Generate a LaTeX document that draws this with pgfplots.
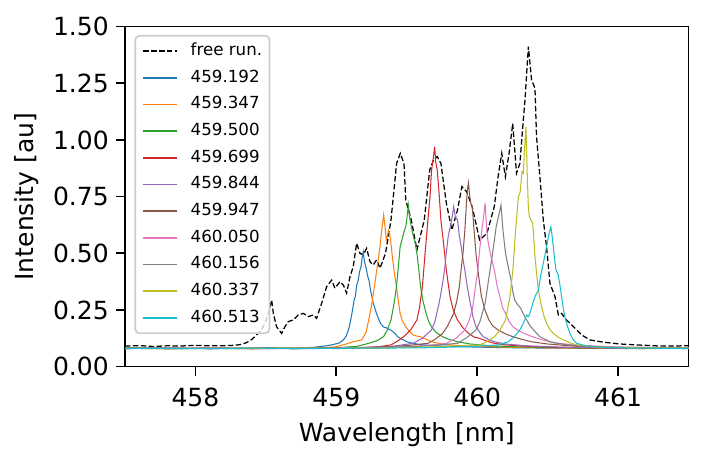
\documentclass[border=0pt]{standalone}
\usepackage{fontspec}
\setmainfont{DejaVu Sans}
\usepackage{pgfplots}
\pgfplotsset{compat=1.18}
\definecolor{tabblue}{HTML}{1F77B4}
\definecolor{taborange}{HTML}{FF7F0E}
\definecolor{tabgreen}{HTML}{2CA02C}
\definecolor{tabred}{HTML}{D62728}
\definecolor{tabpurple}{HTML}{9467BD}
\definecolor{tabbrown}{HTML}{8C564B}
\definecolor{tabpink}{HTML}{E377C2}
\definecolor{tabgray}{HTML}{7F7F7F}
\definecolor{tabolive}{HTML}{BCBD22}
\definecolor{tabcyan}{HTML}{17BECF}
\begin{document}
\begin{tikzpicture}
\begin{axis}[
  name=ax,
  scale only axis,
  width=270.5pt, height=163.2pt,
  xmin=457.5, xmax=461.5, ymin=0, ymax=1.5,
  xtick={458,459,460,461},
  ytick={0,0.25,0.5,0.75,1,1.25,1.5},
  yticklabel style={/pgf/number format/.cd, fixed, fixed zerofill, precision=2},
  xticklabel style={yshift=-2.5pt},
  /pgf/number format/assume math mode=true,
  tick align=outside, tick pos=left,
  major tick length=4.3pt,
  every tick/.style={black, line width=0.8pt},
  axis line style={line width=0.8pt},
  tick label style={font=\fontsize{12}{14}\selectfont},
  label style={font=\fontsize{12}{14}\selectfont},
  xlabel={Wavelength [nm]},
  xlabel style={yshift=-0.5pt},
  ylabel={Intensity [au]},
  legend cell align=left,
  legend image code/.code={\draw[#1, line width=0.75pt, draw opacity=1] (0pt,0pt) -- (16pt,0pt);},
  legend style={at={(0,1)}, anchor=north west, xshift=4.5pt, yshift=-4pt,
    draw=black!20, rounded corners=2pt, line width=0.8pt,
    fill=white, fill opacity=0.8, text opacity=1,
    font=\fontsize{8}{9.6}\selectfont,
    inner xsep=3.5pt, inner ysep=3.5pt, row sep=5.1pt, column sep=6.4pt,
    nodes={inner sep=0pt, text height=6pt, text depth=1.7pt}},
]
\addplot[draw=black, line width=0.6pt, dash pattern=on 2.6pt off 1.2pt] coordinates {
(457.50,0.091)(457.6,0.093)(457.7,0.089)(457.8,0.092)(457.89,0.091)(458.0,0.094)(458.1,0.092)(458.245,0.093)(458.316,0.097)(458.363,0.106)(458.40,0.12)(458.434,0.140)(458.47,0.165)(458.494,0.191)(458.524,0.250)(458.541,0.294)(458.553,0.235)(458.576,0.176)(458.612,0.147)(458.635,0.176)(458.659,0.199)(458.695,0.206)(458.730,0.228)(458.766,0.235)(458.801,0.221)(458.837,0.228)(458.860,0.213)(458.896,0.280)(458.931,0.353)(458.967,0.382)(458.990,0.346)(459.026,0.375)(459.050,0.360)(459.073,0.324)(459.097,0.397)(459.120,0.441)(459.144,0.544)(459.168,0.500)(459.191,0.493)(459.215,0.522)(459.239,0.463)(459.262,0.449)(459.286,0.471)(459.31,0.434)(459.349,0.500)(459.388,0.647)(459.428,0.897)(459.454,0.941)(459.480,0.897)(459.493,0.735)(459.532,0.647)(459.572,0.515)(459.624,0.647)(459.663,0.868)(459.690,0.912)(459.716,0.927)(459.742,0.897)(459.781,0.721)(459.820,0.603)(459.860,0.691)(459.891,0.794)(459.925,0.772)(459.964,0.706)(460.017,0.559)(460.069,0.588)(460.121,0.706)(460.148,0.838)(460.174,0.941)(460.200,0.838)(460.226,0.941)(460.252,1.073)(460.279,0.853)(460.303,0.897)(460.327,1.088)(460.339,1.176)(460.363,1.412)(460.386,1.265)(460.410,1.228)(460.421,1.015)(460.445,0.838)(460.469,0.647)(460.492,0.530)(460.516,0.368)(460.552,0.309)(460.576,0.228)(460.599,0.235)(460.634,0.206)(460.682,0.177)(460.741,0.140)(460.800,0.118)(460.895,0.108)(461.013,0.100)(461.131,0.096)(461.297,0.091)(461.5,0.092)
};
\addlegendentry{free run.}
\addplot[draw=tabblue, line width=0.5pt] coordinates {
(457.50,0.081)(457.70,0.083)(457.90,0.079)(458.10,0.082)(458.30,0.080)(458.50,0.083)(458.70,0.081)(458.85,0.086)(458.93,0.092)(458.98,0.098)(459.02,0.104)(459.05,0.118)(459.07,0.135)(459.09,0.17)(459.10,0.20)(459.115,0.25)(459.125,0.29)(459.135,0.31)(459.145,0.36)(459.155,0.38)(459.165,0.42)(459.175,0.44)(459.183,0.48)(459.191,0.507)(459.198,0.47)(459.205,0.45)(459.213,0.43)(459.222,0.40)(459.232,0.38)(459.242,0.34)(459.252,0.31)(459.262,0.28)(459.272,0.26)(459.285,0.235)(459.30,0.21)(459.315,0.19)(459.335,0.175)(459.36,0.17)(459.39,0.16)(459.41,0.15)(459.44,0.13)(459.47,0.12)(459.50,0.11)(459.55,0.102)(459.60,0.097)(459.70,0.092)(459.80,0.090)(459.95,0.087)(460.10,0.085)(460.30,0.083)(460.50,0.082)(460.80,0.081)(461.10,0.080)(461.50,0.081)
};
\addlegendentry{459.192}
\addplot[draw=taborange, line width=0.5pt] coordinates {
(457.50,0.080)(457.80,0.082)(458.10,0.079)(458.40,0.081)(458.70,0.082)(458.90,0.083)(459.00,0.088)(459.07,0.100)(459.12,0.110)(459.18,0.118)(459.21,0.150)(459.23,0.206)(459.25,0.27)(459.27,0.353)(459.29,0.44)(459.31,0.53)(459.322,0.60)(459.336,0.669)(459.345,0.62)(459.355,0.56)(459.362,0.574)(459.37,0.60)(459.378,0.588)(459.39,0.53)(459.40,0.471)(459.415,0.40)(459.427,0.353)(459.44,0.29)(459.453,0.235)(459.47,0.20)(459.493,0.176)(459.52,0.155)(459.545,0.140)(459.57,0.135)(459.598,0.132)(459.64,0.120)(459.676,0.110)(459.75,0.100)(459.85,0.094)(460.00,0.090)(460.20,0.086)(460.50,0.083)(460.90,0.081)(461.20,0.080)(461.50,0.081)
};
\addlegendentry{459.347}
\addplot[draw=tabgreen, line width=0.5pt] coordinates {
(457.50,0.082)(457.80,0.080)(458.10,0.081)(458.40,0.079)(458.70,0.082)(459.00,0.083)(459.15,0.090)(459.23,0.103)(459.29,0.115)(459.335,0.132)(459.36,0.16)(459.388,0.206)(459.41,0.28)(459.427,0.353)(459.44,0.44)(459.453,0.53)(459.47,0.57)(459.483,0.60)(459.493,0.618)(459.50,0.65)(459.511,0.713)(459.52,0.66)(459.532,0.618)(459.545,0.58)(459.558,0.55)(459.572,0.50)(459.585,0.43)(459.598,0.353)(459.615,0.29)(459.637,0.235)(459.655,0.20)(459.676,0.176)(459.71,0.150)(459.755,0.132)(459.80,0.120)(459.86,0.110)(459.95,0.100)(460.10,0.092)(460.30,0.087)(460.60,0.084)(461.00,0.082)(461.50,0.080)
};
\addlegendentry{459.500}
\addplot[draw=tabred, line width=0.5pt] coordinates {
(457.50,0.081)(457.80,0.079)(458.10,0.082)(458.40,0.080)(458.70,0.081)(459.00,0.082)(459.20,0.085)(459.30,0.088)(459.388,0.096)(459.44,0.115)(459.493,0.140)(459.53,0.165)(459.572,0.206)(459.59,0.26)(459.611,0.353)(459.63,0.50)(459.65,0.647)(459.665,0.75)(459.676,0.868)(459.688,0.92)(459.698,0.970)(459.706,0.90)(459.716,0.868)(459.73,0.76)(459.742,0.647)(459.76,0.55)(459.781,0.426)(459.793,0.37)(459.807,0.309)(459.83,0.25)(459.86,0.206)(459.90,0.17)(459.938,0.147)(459.98,0.13)(460.017,0.125)(460.07,0.112)(460.122,0.103)(460.20,0.096)(460.35,0.090)(460.60,0.085)(461.00,0.082)(461.50,0.081)
};
\addlegendentry{459.699}
\addplot[draw=tabpurple, line width=0.5pt] coordinates {
(457.50,0.080)(457.80,0.082)(458.10,0.080)(458.40,0.081)(458.70,0.079)(459.00,0.081)(459.20,0.084)(459.40,0.090)(459.545,0.103)(459.61,0.125)(459.676,0.162)(459.70,0.20)(459.729,0.279)(459.75,0.35)(459.768,0.426)(459.78,0.50)(459.794,0.574)(459.81,0.62)(459.822,0.66)(459.833,0.706)(459.845,0.66)(459.86,0.647)(459.873,0.58)(459.886,0.53)(459.90,0.47)(459.912,0.426)(459.93,0.35)(459.951,0.279)(459.97,0.22)(459.991,0.176)(460.02,0.15)(460.043,0.132)(460.08,0.12)(460.122,0.110)(460.20,0.100)(460.35,0.092)(460.60,0.086)(461.00,0.082)(461.50,0.081)
};
\addlegendentry{459.844}
\addplot[draw=tabbrown, line width=0.5pt] coordinates {
(457.50,0.082)(457.80,0.080)(458.10,0.081)(458.40,0.082)(458.70,0.080)(459.00,0.082)(459.30,0.086)(459.50,0.093)(459.65,0.103)(459.70,0.120)(459.755,0.147)(459.79,0.18)(459.833,0.235)(459.855,0.29)(459.873,0.353)(459.886,0.43)(459.899,0.50)(459.912,0.60)(459.925,0.735)(459.932,0.79)(459.938,0.812)(459.945,0.76)(459.955,0.72)(459.965,0.706)(459.978,0.60)(459.991,0.50)(460.01,0.40)(460.030,0.309)(460.055,0.25)(460.083,0.206)(460.11,0.18)(460.148,0.162)(460.20,0.145)(460.253,0.132)(460.32,0.12)(460.384,0.110)(460.50,0.100)(460.70,0.090)(461.00,0.085)(461.50,0.082)
};
\addlegendentry{459.947}
\addplot[draw=tabpink, line width=0.5pt] coordinates {
(457.50,0.081)(457.80,0.080)(458.10,0.082)(458.40,0.079)(458.70,0.081)(459.00,0.082)(459.30,0.084)(459.55,0.090)(459.70,0.097)(459.781,0.103)(459.85,0.125)(459.912,0.162)(459.94,0.20)(459.965,0.25)(459.985,0.34)(460.004,0.426)(460.018,0.52)(460.030,0.588)(460.043,0.65)(460.056,0.721)(460.066,0.62)(460.075,0.56)(460.083,0.53)(460.10,0.48)(460.122,0.426)(460.14,0.36)(460.161,0.309)(460.18,0.26)(460.201,0.235)(460.225,0.20)(460.253,0.176)(460.29,0.160)(460.332,0.147)(460.40,0.13)(460.463,0.118)(460.55,0.105)(460.70,0.095)(461.00,0.087)(461.50,0.083)
};
\addlegendentry{460.050}
\addplot[draw=tabgray, line width=0.5pt] coordinates {
(457.50,0.080)(457.80,0.082)(458.10,0.080)(458.40,0.081)(458.70,0.082)(459.00,0.080)(459.30,0.083)(459.60,0.090)(459.75,0.097)(459.86,0.103)(459.93,0.130)(459.991,0.162)(460.02,0.20)(460.056,0.279)(460.08,0.38)(460.109,0.50)(460.122,0.56)(460.135,0.618)(460.15,0.66)(460.169,0.713)(460.18,0.62)(460.19,0.56)(460.201,0.50)(460.22,0.44)(460.24,0.382)(460.253,0.33)(460.266,0.294)(460.285,0.275)(460.306,0.26)(460.33,0.23)(460.351,0.206)(460.375,0.18)(460.40,0.162)(460.445,0.132)(460.516,0.110)(460.568,0.103)(460.65,0.095)(460.80,0.088)(461.10,0.084)(461.50,0.082)
};
\addlegendentry{460.156}
\addplot[draw=tabolive, line width=0.5pt] coordinates {
(457.50,0.081)(457.80,0.079)(458.10,0.081)(458.40,0.080)(458.70,0.082)(459.00,0.081)(459.30,0.082)(459.60,0.086)(459.80,0.090)(459.90,0.093)(460.017,0.096)(460.07,0.110)(460.122,0.132)(460.16,0.16)(460.201,0.206)(460.23,0.30)(460.253,0.426)(460.27,0.58)(460.292,0.75)(460.305,0.77)(460.318,0.86)(460.327,0.853)(460.335,0.95)(460.346,1.059)(460.355,0.85)(460.363,0.70)(460.370,0.662)(460.383,0.645)(460.394,0.632)(460.402,0.56)(460.410,0.485)(460.422,0.41)(460.434,0.338)(460.457,0.265)(460.475,0.22)(460.492,0.191)(460.515,0.165)(460.540,0.147)(460.575,0.13)(460.611,0.118)(460.66,0.105)(460.705,0.096)(460.823,0.088)(461.00,0.084)(461.50,0.081)
};
\addlegendentry{460.337}
\addplot[draw=tabcyan, line width=0.5pt] coordinates {
(457.50,0.080)(457.80,0.081)(458.10,0.079)(458.40,0.082)(458.70,0.080)(459.00,0.081)(459.30,0.082)(459.60,0.083)(459.80,0.086)(460.00,0.090)(460.15,0.096)(460.22,0.110)(460.26,0.130)(460.303,0.162)(460.327,0.191)(460.351,0.228)(460.362,0.22)(460.374,0.235)(460.39,0.27)(460.410,0.309)(460.434,0.338)(460.45,0.40)(460.469,0.456)(460.48,0.49)(460.492,0.530)(460.505,0.57)(460.515,0.60)(460.523,0.617)(460.531,0.58)(460.540,0.530)(460.55,0.47)(460.559,0.427)(460.567,0.415)(460.575,0.405)(460.587,0.36)(460.599,0.309)(460.61,0.26)(460.622,0.221)(460.64,0.18)(460.658,0.147)(460.68,0.12)(460.705,0.103)(460.776,0.091)(460.90,0.085)(461.10,0.082)(461.50,0.080)
};
\addlegendentry{460.513}
\end{axis}
\pgfresetboundingbox
\path[use as bounding box] ([xshift=-60pt,yshift=-44.8pt]ax.south west) rectangle ([xshift=10.3pt,yshift=12.8pt]ax.north east);
\end{tikzpicture}
\end{document}
